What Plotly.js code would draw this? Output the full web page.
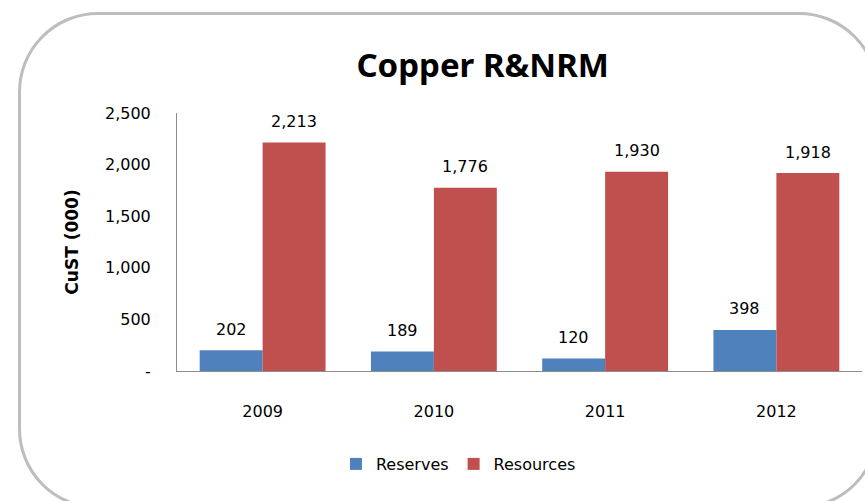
<!DOCTYPE html>
<html>
<head>
<meta charset="utf-8">
<script src="https://cdn.plot.ly/plotly-3.0.1.min.js"></script>
<style>
  html, body { margin: 0; padding: 0; background: #fff; overflow: hidden; }
  #wrap { position: relative; width: 865px; height: 501px; overflow: hidden; }
  #chart { position: absolute; left: 0; top: 0; width: 865px; height: 501px; }
  #frame { position: absolute; left: 18px; top: 12px; width: 861px; height: 497px;
           box-sizing: border-box; border: 3px solid #bdbdbd; border-radius: 80px;
           pointer-events: none; }
</style>
</head>
<body>
<div id="wrap">
  <div id="chart"></div>
  <div id="frame"></div>
</div>
<script>
const years = ['2009', '2010', '2011', '2012'];
const reserves = [202, 189, 120, 398];
const resources = [2213, 1776, 1930, 1918];
const yTickVals = [0, 500, 1000, 1500, 2000, 2500];
const yTickText = ['-', '500', '1,000', '1,500', '2,000', '2,500'];

const FONT = 'DejaVu Sans, sans-serif';
const TITLE_FONT = 'Noto Sans, sans-serif';
const W = 865, H = 501;
const margin = { l: 177, r: 3, t: 113, b: 130 };
const bargap = 0.265;

const plotW = W - margin.l - margin.r;
const halfBar = plotW / years.length * (1 - bargap) / 4;

function fmt(v) { return v.toLocaleString('en-US'); }

const annotations = [];
years.forEach((yr, i) => {
  annotations.push({ x: i, y: reserves[i], xref: 'x', yref: 'y', text: fmt(reserves[i]),
    showarrow: false, xshift: -halfBar, yshift: 21, yanchor: 'middle',
    font: { family: FONT, size: 16, color: '#000' } });
  annotations.push({ x: i, y: resources[i], xref: 'x', yref: 'y', text: fmt(resources[i]),
    showarrow: false, xshift: halfBar, yshift: 21, yanchor: 'middle',
    font: { family: FONT, size: 16, color: '#000' } });
});

const data = [
  { type: 'bar', name: 'Reserves', x: years, y: reserves, marker: { color: '#4f81bd' }, hoverinfo: 'y' },
  { type: 'bar', name: 'Resources', x: years, y: resources, marker: { color: '#c0504d' }, hoverinfo: 'y' }
];

const layout = {
  width: W, height: H,
  margin: margin,
  paper_bgcolor: 'rgba(0,0,0,0)',
  plot_bgcolor: 'rgba(0,0,0,0)',
  barmode: 'group',
  bargap: bargap,
  bargroupgap: 0,
  font: { family: FONT, size: 16, color: '#000' },
  title: {
    text: '<b>Copper R&amp;NRM</b>',
    font: { family: TITLE_FONT, size: 33, color: '#000' },
    xref: 'container', yref: 'container',
    x: 0.558, xanchor: 'center', y: 1 - 65 / H, yanchor: 'middle'
  },
  xaxis: {
    type: 'category',
    categoryorder: 'array', categoryarray: years,
    range: [-0.5, years.length - 0.5],
    showline: true, linecolor: '#8c8c8c', linewidth: 1,
    ticks: '', showgrid: false, zeroline: false,
    ticklabelstandoff: 26,
    tickfont: { family: FONT, size: 16, color: '#000' },
    fixedrange: true
  },
  yaxis: {
    range: [0, 2500],
    tickvals: yTickVals, ticktext: yTickText,
    showline: true, linecolor: '#8c8c8c', linewidth: 1,
    ticks: '', showgrid: false, zeroline: false,
    ticklabelstandoff: 22,
    tickfont: { family: FONT, size: 16, color: '#000' },
    title: { text: '<b>CuST (000)</b>', font: { family: FONT, size: 17, color: '#000' }, standoff: 22 },
    fixedrange: true
  },
  showlegend: true,
  legend: {
    orientation: 'h',
    xref: 'container', yref: 'container',
    x: 0.53, xanchor: 'center', y: 1 - 464 / H, yanchor: 'middle',
    font: { family: FONT, size: 16, color: '#000' },
    traceorder: 'normal'
  },
  annotations: annotations
};

Plotly.newPlot('chart', data, layout, { displayModeBar: false, staticPlot: true });
</script>
</body>
</html>
